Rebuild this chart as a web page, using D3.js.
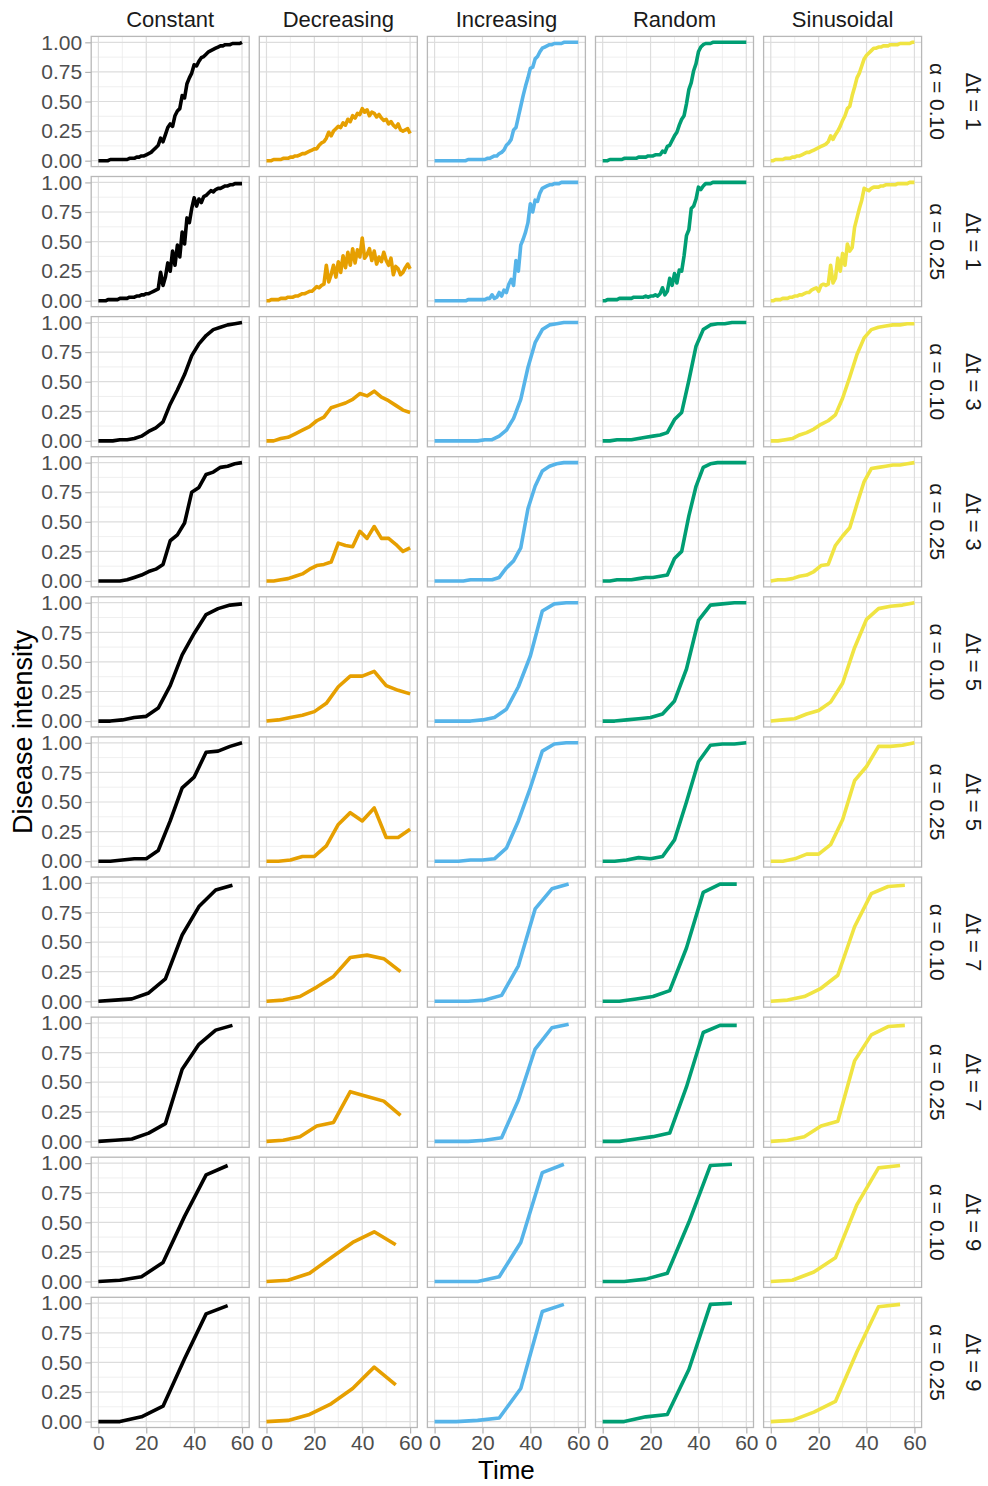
<!DOCTYPE html>
<html>
<head>
<meta charset="utf-8">
<script src="https://cdn.jsdelivr.net/npm/d3@7"></script>
<style>
  body { margin: 0; background: #fff; }
  text { font-family: "Liberation Sans", Arial, sans-serif; }
</style>
</head>
<body>
<div id="chart"></div>
<script>
// facet layout: columns = pattern, rows = (dt, alpha)
const patterns = ["Constant", "Decreasing", "Increasing", "Random", "Sinusoidal"];
const colors = ["#000000", "#E69F00", "#56B4E9", "#009E73", "#F0E442"];
const dtValues = [1, 1, 3, 3, 5, 5, 7, 7, 9, 9];
const alphaLabels = ["0.10", "0.25", "0.10", "0.25", "0.10", "0.25", "0.10", "0.25", "0.10", "0.25"];
const xTicks = [0, 20, 40, 60];
const xMinor = [10, 30, 50];
const yTicks = [0, 0.25, 0.5, 0.75, 1];
const yMinor = [0.125, 0.375, 0.625, 0.875];

// disease intensity per row, sampled every dt starting at time 0
const constant = [
  [0.00,0.00,0.00,0.00,0.00,0.01,0.01,0.01,0.01,0.01,0.01, 0.01,0.01,0.02,0.02,0.02,0.03,0.03,0.04,0.04,0.05,
   0.06,0.07,0.09,0.11,0.13,0.19,0.16,0.22,0.28,0.31, 0.29,0.38,0.42,0.44,0.55,0.53,0.65,0.70,0.74,0.81,
   0.80,0.84,0.87,0.88,0.90,0.92,0.93,0.94,0.95,0.96, 0.97,0.97,0.98,0.98,0.98,0.99,0.99,0.99,0.99,1.00],
  [0.00,0.00,0.00,0.00,0.01,0.01,0.01,0.01,0.01,0.02,0.02, 0.02,0.02,0.03,0.03,0.03,0.04,0.04,0.05,0.05,0.06,
   0.06,0.07,0.08,0.09,0.10,0.24,0.13,0.20,0.32,0.25, 0.42,0.30,0.47,0.37,0.58,0.48,0.70,0.66,0.78,0.87,
   0.80,0.86,0.83,0.88,0.89,0.91,0.93,0.92,0.94,0.95, 0.95,0.96,0.97,0.97,0.98,0.98,0.99,0.99,0.99,0.99],
  [0.00,0.00,0.00,0.01,0.01,0.02,0.04,0.08,0.11,0.16,0.31,0.43,0.56,0.72,0.82,0.89,0.94,0.96,0.98,0.99,1.00],
  [0.00,0.00,0.00,0.00,0.01,0.03,0.05,0.08,0.10,0.14,0.34,0.39,0.49,0.75,0.79,0.90,0.92,0.96,0.97,0.99,1.00],
  [0.00,0.00,0.01,0.03,0.04,0.11,0.30,0.56,0.74,0.90,0.95,0.98,0.99],
  [0.00,0.00,0.01,0.02,0.02,0.09,0.34,0.62,0.71,0.92,0.93,0.97,1.00],
  [0.00,0.01,0.02,0.07,0.19,0.56,0.80,0.94,0.98],
  [0.00,0.01,0.02,0.07,0.15,0.61,0.82,0.94,0.98],
  [0.00,0.01,0.04,0.16,0.55,0.90,0.98],
  [0.00,0.00,0.04,0.13,0.53,0.91,0.98]
];

const decreasing = [
  [0.00,0.00,0.00,0.01,0.01,0.01,0.01,0.02,0.02,0.02,0.03, 0.03,0.04,0.04,0.05,0.06,0.06,0.07,0.08,0.09,0.10,
   0.10,0.13,0.15,0.16,0.19,0.24,0.21,0.25,0.27,0.29, 0.28,0.32,0.30,0.35,0.33,0.38,0.36,0.40,0.39,0.44,
   0.41,0.43,0.38,0.41,0.40,0.37,0.39,0.36,0.34,0.35, 0.31,0.33,0.30,0.28,0.31,0.26,0.25,0.26,0.27,0.23],
  [0.00,0.00,0.01,0.01,0.01,0.01,0.02,0.02,0.02,0.03,0.03, 0.03,0.04,0.04,0.05,0.06,0.06,0.07,0.08,0.08,0.10,
   0.12,0.11,0.13,0.14,0.30,0.16,0.22,0.30,0.20,0.33, 0.24,0.38,0.28,0.41,0.30,0.44,0.32,0.43,0.37,0.53,
   0.36,0.39,0.44,0.34,0.42,0.31,0.37,0.33,0.41,0.34, 0.30,0.36,0.22,0.29,0.27,0.22,0.24,0.28,0.31,0.27],
  [0.00,0.00,0.02,0.03,0.06,0.09,0.12,0.17,0.20,0.28,0.30,0.32,0.35,0.40,0.38,0.42,0.37,0.34,0.30,0.26,0.24],
  [0.00,0.00,0.01,0.02,0.04,0.06,0.10,0.13,0.14,0.16,0.32,0.30,0.29,0.42,0.36,0.46,0.36,0.36,0.31,0.25,0.28],
  [0.00,0.01,0.03,0.05,0.08,0.15,0.29,0.38,0.38,0.42,0.30,0.26,0.23],
  [0.00,0.00,0.01,0.04,0.04,0.13,0.31,0.41,0.34,0.45,0.20,0.20,0.27],
  [0.00,0.01,0.04,0.12,0.21,0.37,0.39,0.36,0.25],
  [0.00,0.01,0.04,0.13,0.16,0.42,0.38,0.34,0.22],
  [0.00,0.01,0.07,0.20,0.33,0.42,0.31],
  [0.00,0.01,0.06,0.15,0.28,0.46,0.31]
];

const increasing = [
  [0.00,0.00,0.00,0.00,0.00,0.00,0.00,0.00,0.00,0.00,0.00, 0.00,0.00,0.00,0.01,0.01,0.01,0.01,0.01,0.01,0.01,
   0.01,0.02,0.02,0.03,0.04,0.04,0.06,0.07,0.09,0.13, 0.15,0.18,0.26,0.28,0.37,0.46,0.55,0.63,0.70,0.78,
   0.79,0.86,0.88,0.92,0.95,0.96,0.97,0.98,0.98,0.99, 0.99,0.99,0.99,1.00,1.00,1.00,1.00,1.00,1.00,1.00],
  [0.00,0.00,0.00,0.00,0.00,0.00,0.00,0.00,0.00,0.00,0.00, 0.00,0.00,0.00,0.01,0.01,0.01,0.01,0.01,0.01,0.01,
   0.01,0.02,0.02,0.05,0.02,0.03,0.07,0.04,0.09,0.07, 0.14,0.18,0.13,0.34,0.25,0.47,0.52,0.58,0.66,0.82,
   0.75,0.85,0.84,0.91,0.95,0.96,0.97,0.98,0.98,0.99, 0.99,0.99,1.00,1.00,1.00,1.00,1.00,1.00,1.00,1.00],
  [0.00,0.00,0.00,0.00,0.00,0.00,0.00,0.01,0.01,0.04,0.09,0.19,0.35,0.62,0.83,0.94,0.98,0.99,1.00,1.00,1.00],
  [0.00,0.00,0.00,0.00,0.00,0.01,0.01,0.01,0.01,0.03,0.11,0.17,0.28,0.61,0.80,0.93,0.97,0.99,1.00,1.00,1.00],
  [0.00,0.00,0.00,0.00,0.01,0.03,0.10,0.29,0.55,0.93,0.99,1.00,1.00],
  [0.00,0.00,0.00,0.01,0.01,0.02,0.11,0.34,0.62,0.93,0.99,1.00,1.00],
  [0.00,0.00,0.00,0.01,0.05,0.30,0.78,0.95,0.99],
  [0.00,0.00,0.00,0.01,0.03,0.35,0.78,0.96,0.99],
  [0.00,0.00,0.00,0.04,0.33,0.92,0.99],
  [0.00,0.00,0.01,0.03,0.28,0.93,0.99]
];

const random = [
  [0.00,0.00,0.00,0.01,0.01,0.01,0.01,0.01,0.01,0.02,0.02, 0.02,0.02,0.02,0.02,0.03,0.03,0.03,0.03,0.04,0.04,
   0.04,0.05,0.05,0.05,0.08,0.07,0.12,0.13,0.17,0.21, 0.24,0.30,0.35,0.38,0.48,0.60,0.66,0.76,0.82,0.92,
   0.96,0.98,0.99,0.99,0.99,1.00,1.00,1.00,1.00,1.00, 1.00,1.00,1.00,1.00,1.00,1.00,1.00,1.00,1.00,1.00],
  [0.00,0.00,0.01,0.01,0.01,0.01,0.01,0.02,0.02,0.02,0.02, 0.02,0.02,0.03,0.03,0.03,0.03,0.03,0.04,0.03,0.04,
   0.04,0.05,0.04,0.06,0.11,0.05,0.08,0.19,0.13,0.23, 0.15,0.26,0.25,0.38,0.55,0.60,0.78,0.80,0.86,0.96,
   0.94,0.97,0.99,0.99,0.99,1.00,1.00,1.00,1.00,1.00, 1.00,1.00,1.00,1.00,1.00,1.00,1.00,1.00,1.00,1.00],
  [0.00,0.00,0.01,0.01,0.01,0.02,0.03,0.04,0.05,0.07,0.18,0.24,0.51,0.80,0.94,0.98,0.99,0.99,1.00,1.00,1.00],
  [0.00,0.00,0.01,0.01,0.01,0.02,0.03,0.03,0.04,0.05,0.19,0.25,0.55,0.80,0.96,0.99,1.00,1.00,1.00,1.00,1.00],
  [0.00,0.00,0.01,0.02,0.03,0.06,0.17,0.44,0.85,0.98,0.99,1.00,1.00],
  [0.00,0.00,0.01,0.03,0.02,0.04,0.18,0.50,0.84,0.98,0.99,0.99,1.00],
  [0.00,0.00,0.02,0.04,0.09,0.45,0.92,0.99,0.99],
  [0.00,0.00,0.02,0.04,0.07,0.46,0.92,0.98,0.98],
  [0.00,0.00,0.02,0.07,0.50,0.98,0.99],
  [0.00,0.00,0.04,0.06,0.44,0.99,1.00]
];

const sinusoidal = [
  [0.00,0.00,0.01,0.01,0.01,0.01,0.02,0.02,0.02,0.03,0.03, 0.04,0.04,0.05,0.06,0.07,0.07,0.08,0.09,0.10,0.11,
   0.12,0.13,0.14,0.16,0.21,0.18,0.22,0.25,0.29,0.34, 0.38,0.44,0.46,0.55,0.62,0.70,0.74,0.80,0.86,0.89,
   0.91,0.93,0.95,0.95,0.96,0.96,0.97,0.97,0.97,0.98, 0.98,0.98,0.98,0.99,0.99,0.99,0.99,0.99,1.00,1.00],
  [0.00,0.00,0.01,0.01,0.01,0.02,0.02,0.02,0.03,0.03,0.04, 0.04,0.05,0.05,0.06,0.07,0.07,0.09,0.10,0.11,0.08,
   0.13,0.14,0.13,0.14,0.30,0.15,0.19,0.36,0.25,0.40, 0.30,0.48,0.42,0.45,0.62,0.70,0.78,0.85,0.95,0.94,
   0.93,0.95,0.96,0.96,0.96,0.97,0.97,0.98,0.98,0.98, 0.98,0.98,0.99,0.99,0.99,0.99,0.99,1.00,1.00,1.00],
  [0.00,0.00,0.01,0.02,0.05,0.07,0.10,0.14,0.17,0.22,0.36,0.54,0.73,0.87,0.94,0.96,0.97,0.98,0.98,0.99,0.99],
  [0.00,0.01,0.01,0.02,0.04,0.05,0.08,0.13,0.14,0.30,0.38,0.45,0.65,0.84,0.95,0.96,0.97,0.98,0.98,0.99,1.00],
  [0.00,0.01,0.02,0.06,0.09,0.16,0.32,0.62,0.86,0.95,0.97,0.98,1.00],
  [0.00,0.00,0.02,0.06,0.06,0.14,0.35,0.68,0.80,0.97,0.97,0.98,1.00],
  [0.00,0.01,0.04,0.11,0.22,0.63,0.91,0.97,0.98],
  [0.00,0.01,0.04,0.13,0.17,0.68,0.90,0.97,0.98],
  [0.00,0.01,0.08,0.20,0.65,0.96,0.98],
  [0.00,0.01,0.08,0.17,0.59,0.97,0.99]
];

const seriesByPattern = [constant, decreasing, increasing, random, sinusoidal];

// page geometry
const width = 988, height = 1486;
const left0 = 91.2, colStep = 168.1, pw = 158;
const top0 = 36.4, rowStep = 140.1, ph = 130.2;

const svg = d3.select("#chart").append("svg")
  .attr("width", width).attr("height", height)
  .attr("viewBox", `0 0 ${width} ${height}`);

const x = d3.scaleLinear().domain([-3, 63]).range([0, pw]);
const y = d3.scaleLinear().domain([-0.05, 1.05]).range([ph, 0]);

const line = d3.line()
  .x(d => x(d.t))
  .y(d => y(d.v));

const yFmt = d3.format(".2f");

dtValues.forEach((dt, r) => {
  patterns.forEach((p, c) => {
    const g = svg.append("g")
      .attr("transform", `translate(${left0 + c * colStep},${top0 + r * rowStep})`);

    g.append("rect").attr("width", pw).attr("height", ph).attr("fill", "#fff");

    // minor grid
    g.selectAll(".vmin").data(xMinor).join("line")
      .attr("x1", d => x(d)).attr("x2", d => x(d))
      .attr("y1", 0).attr("y2", ph)
      .attr("stroke", "#ebebeb").attr("stroke-width", 0.8);
    g.selectAll(".hmin").data(yMinor).join("line")
      .attr("y1", d => y(d)).attr("y2", d => y(d))
      .attr("x1", 0).attr("x2", pw)
      .attr("stroke", "#ebebeb").attr("stroke-width", 0.8);
    // major grid
    g.selectAll(".vmaj").data(xTicks).join("line")
      .attr("x1", d => x(d)).attr("x2", d => x(d))
      .attr("y1", 0).attr("y2", ph)
      .attr("stroke", "#dddddd").attr("stroke-width", 1.2);
    g.selectAll(".hmaj").data(yTicks).join("line")
      .attr("y1", d => y(d)).attr("y2", d => y(d))
      .attr("x1", 0).attr("x2", pw)
      .attr("stroke", "#dddddd").attr("stroke-width", 1.2);

    const pts = seriesByPattern[c][r].map((v, i) => ({ t: i * dt, v: v }));
    g.append("path")
      .datum(pts)
      .attr("d", line)
      .attr("fill", "none")
      .attr("stroke", colors[c])
      .attr("stroke-width", 3.6)
      .attr("stroke-linejoin", "round");

    g.append("rect").attr("width", pw).attr("height", ph)
      .attr("fill", "none").attr("stroke", "#b8b8b8").attr("stroke-width", 1.3);

    // y axis on first column
    if (c === 0) {
      const ya = g.append("g")
        .call(d3.axisLeft(y).tickValues(yTicks).tickFormat(yFmt).tickSize(6).tickPadding(3));
      ya.select(".domain").remove();
      ya.selectAll("line").attr("stroke", "#b3b3b3").attr("stroke-width", 1.2);
      ya.selectAll("text").attr("fill", "#4d4d4d").style("font-size", "21px")
        .style("font-family", "'Liberation Sans', Arial, sans-serif");
    }
    // x axis on last row
    if (r === dtValues.length - 1) {
      const xa = g.append("g").attr("transform", `translate(0,${ph})`)
        .call(d3.axisBottom(x).tickValues(xTicks).tickSize(6).tickPadding(2));
      xa.select(".domain").remove();
      xa.selectAll("line").attr("stroke", "#b3b3b3").attr("stroke-width", 1.2);
      xa.selectAll("text").attr("fill", "#4d4d4d").style("font-size", "21px")
        .style("font-family", "'Liberation Sans', Arial, sans-serif");
    }
    // column strip
    if (r === 0) {
      svg.append("text")
        .attr("x", left0 + c * colStep + pw / 2).attr("y", 27)
        .attr("text-anchor", "middle")
        .attr("fill", "#1a1a1a").style("font-size", "22px")
        .text(p);
    }
  });

  // row strips on the right
  const cy = top0 + r * rowStep + ph / 2;
  const stripX = left0 + 4 * colStep + pw;
  svg.append("text")
    .attr("transform", `translate(${stripX + 8},${cy}) rotate(90)`)
    .attr("text-anchor", "middle")
    .attr("fill", "#1a1a1a").style("font-size", "21px")
    .text(`\u03b1 = ${alphaLabels[r]}`);
  svg.append("text")
    .attr("transform", `translate(${stripX + 44},${cy}) rotate(90)`)
    .attr("text-anchor", "middle")
    .attr("fill", "#1a1a1a").style("font-size", "22px")
    .text(`\u0394t = ${dt}`);
});

// axis titles
svg.append("text")
  .attr("x", left0 + (4 * colStep + pw) / 2).attr("y", 1479)
  .attr("text-anchor", "middle").attr("fill", "#000").style("font-size", "26px")
  .text("Time");
svg.append("text")
  .attr("transform", `translate(32,${top0 + (9 * rowStep + ph) / 2}) rotate(-90)`)
  .attr("text-anchor", "middle").attr("fill", "#000").style("font-size", "27px")
  .text("Disease intensity");
</script>
</body>
</html>
